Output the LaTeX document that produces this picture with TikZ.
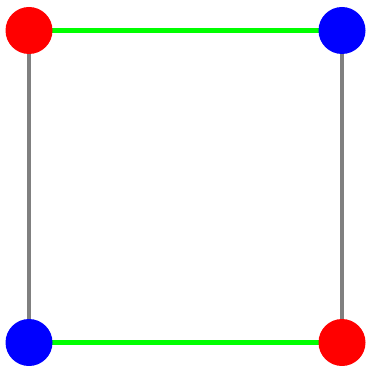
\documentclass[tikz,border=0pt]{standalone}
\begin{document}
\begin{tikzpicture}[x=1pt,y=-1pt,
  dot/.style={circle,minimum size=47pt,inner sep=0pt},
  reddot/.style={dot,fill={rgb,255:red,255;green,0;blue,0}},
  bluedot/.style={dot,fill={rgb,255:red,0;green,0;blue,255}},
  hedge/.style={line width=4.5pt,draw={rgb,255:red,0;green,255;blue,0}},
  vedge/.style={line width=4.5pt,draw={rgb,255:red,128;green,128;blue,128}}]
\useasboundingbox (0,0) rectangle (366,366);
\coordinate (tl) at (29,30.5);
\coordinate (tr) at (342,30.5);
\coordinate (bl) at (29,342.5);
\coordinate (br) at (342,342.5);
\draw[hedge] (tl) -- (tr);
\draw[hedge] (bl) -- (br);
\draw[vedge] (tl) -- (bl);
\draw[vedge] (tr) -- (br);
\node[reddot] (a) at (tl) {};
\node[bluedot] (b) at (tr) {};
\node[bluedot] (c) at (bl) {};
\node[reddot] (d) at (br) {};
\end{tikzpicture}
\end{document}
